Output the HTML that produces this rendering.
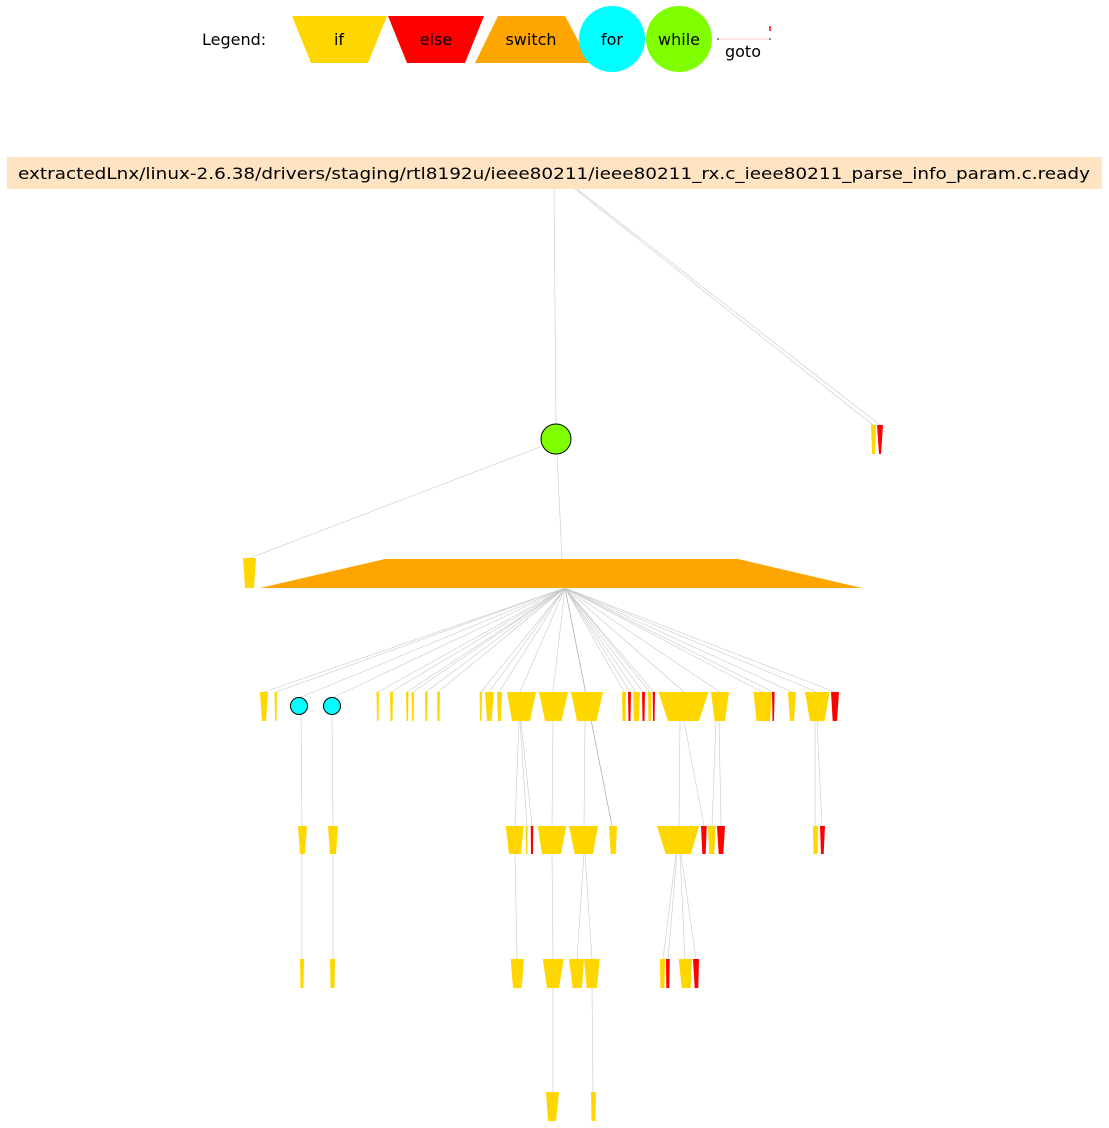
<!DOCTYPE html>
<html><head><meta charset="utf-8"><style>
html,body{margin:0;padding:0;background:#fff;}
svg{display:block;font-family:"DejaVu Sans","Liberation Sans",sans-serif;}
</style></head><body>
<svg width="1109" height="1128" viewBox="0 0 1109 1128" xmlns="http://www.w3.org/2000/svg">
<!-- Legend -->
<text x="202" y="45" font-size="16" fill="#000">Legend:</text>
<polygon points="292,16 387,16 368,63 311,63" fill="#ffd700"/>
<text x="339" y="45" font-size="16" text-anchor="middle">if</text>
<polygon points="388,16 484,16 465,63 407,63" fill="#ff0000"/>
<text x="436" y="45" font-size="16" text-anchor="middle">else</text>
<polygon points="498,16 565,16 590,63 475,63" fill="#ffa500"/>
<text x="531" y="45" font-size="16" text-anchor="middle">switch</text>
<ellipse cx="612" cy="39" rx="33" ry="33" fill="#00ffff"/>
<text x="612" y="45" font-size="16" text-anchor="middle">for</text>
<ellipse cx="679" cy="39" rx="33" ry="33" fill="#7fff00"/>
<text x="679" y="45" font-size="16" text-anchor="middle">while</text>
<line x1="718" y1="39" x2="770" y2="39" stroke="#fcc" stroke-width="1"/>
<circle cx="718" cy="39" r="0.8" fill="#000"/>
<circle cx="770" cy="39" r="0.8" fill="#000"/>
<line x1="770" y1="26" x2="770" y2="31" stroke="#f00" stroke-width="1.5"/>
<text x="743" y="57" font-size="16" text-anchor="middle">goto</text>

<!-- Title -->
<rect x="7" y="157" width="1095" height="32" fill="#ffe4c4"/>
<text x="554" y="179" font-size="16" text-anchor="middle" textLength="1072" lengthAdjust="spacingAndGlyphs">extractedLnx/linux-2.6.38/drivers/staging/rtl8192u/ieee80211/ieee80211_rx.c_ieee80211_parse_info_param.c.ready</text>

<!-- edges -->
<g stroke="#c8c8c8" stroke-width="0.6" fill="none">
<line x1="554" y1="189" x2="556" y2="424"/>
<line x1="575" y1="189" x2="873" y2="425"/>
<line x1="577" y1="189" x2="880" y2="425"/>
<line x1="540" y1="447" x2="250" y2="558"/>
<line x1="557" y1="454" x2="562" y2="559"/>
<line x1="565" y1="588" x2="264" y2="692"/>
<line x1="565" y1="588" x2="276" y2="692"/>
<line x1="565" y1="588" x2="299" y2="698"/>
<line x1="565" y1="588" x2="332" y2="698"/>
<line x1="565" y1="588" x2="378" y2="692"/>
<line x1="565" y1="588" x2="391" y2="692"/>
<line x1="565" y1="588" x2="407" y2="692"/>
<line x1="565" y1="588" x2="413" y2="692"/>
<line x1="565" y1="588" x2="426" y2="692"/>
<line x1="565" y1="588" x2="438" y2="692"/>
<line x1="565" y1="588" x2="481" y2="692"/>
<line x1="565" y1="588" x2="489" y2="692"/>
<line x1="565" y1="588" x2="499" y2="692"/>
<line x1="565" y1="588" x2="520" y2="692"/>
<line x1="565" y1="588" x2="553" y2="692"/>
<line x1="565" y1="588" x2="612" y2="826" stroke="#999"/>
<line x1="565" y1="588" x2="624" y2="692"/>
<line x1="565" y1="588" x2="630" y2="692"/>
<line x1="565" y1="588" x2="636" y2="692"/>
<line x1="565" y1="588" x2="643" y2="692"/>
<line x1="565" y1="588" x2="650" y2="692"/>
<line x1="565" y1="588" x2="654" y2="692"/>
<line x1="565" y1="588" x2="684" y2="692"/>
<line x1="565" y1="588" x2="720" y2="692"/>
<line x1="565" y1="588" x2="762" y2="692"/>
<line x1="565" y1="588" x2="773" y2="692"/>
<line x1="565" y1="588" x2="792" y2="692"/>
<line x1="565" y1="588" x2="817" y2="692"/>
<line x1="565" y1="588" x2="835" y2="692"/>
<line x1="301" y1="714" x2="302" y2="826"/>
<line x1="332" y1="714" x2="333" y2="826"/>
<line x1="519" y1="721" x2="515" y2="826"/>
<line x1="520" y1="721" x2="527" y2="826"/>
<line x1="521" y1="721" x2="532" y2="826"/>
<line x1="553" y1="721" x2="552" y2="826"/>
<line x1="585" y1="721" x2="584" y2="826"/>
<line x1="680" y1="721" x2="679" y2="826"/>
<line x1="684" y1="721" x2="704" y2="826"/>
<line x1="716" y1="721" x2="712" y2="826"/>
<line x1="719" y1="721" x2="721" y2="826"/>
<line x1="815" y1="721" x2="815" y2="826"/>
<line x1="817" y1="721" x2="822" y2="826"/>
<line x1="302" y1="854" x2="302" y2="959"/>
<line x1="333" y1="854" x2="333" y2="959"/>
<line x1="515" y1="854" x2="517" y2="959"/>
<line x1="552" y1="854" x2="553" y2="959"/>
<line x1="584" y1="854" x2="577" y2="959"/>
<line x1="585" y1="854" x2="592" y2="959"/>
<line x1="676" y1="854" x2="663" y2="959"/>
<line x1="677" y1="854" x2="668" y2="959"/>
<line x1="680" y1="854" x2="685" y2="959"/>
<line x1="681" y1="854" x2="696" y2="959"/>
<line x1="553" y1="988" x2="553" y2="1092"/>
<line x1="592" y1="988" x2="593" y2="1092"/>
</g>

<circle cx="556" cy="439" r="15" fill="#7fff00" stroke="#000" stroke-width="1"/>
<polygon points="871,425 876,425 875,454 872,454" fill="#ffd700"/>
<polygon points="877,425 883,425 881,454 879,454" fill="#ff0000"/>
<polygon points="243,558 256,558 254,588 245,588" fill="#ffd700"/>
<polygon points="385,559 738,559 862,588 260,588" fill="#ffa500"/>

<g fill="#ffd700">
<polygon points="260,692 268,692 266,721 262,721"/>
<polygon points="274.5,692 277,692 276.5,721 275,721"/>
<polygon points="376.5,692 379,692 378.5,721 377,721"/>
<polygon points="390,692 393,692 392.5,721 390.5,721"/>
<polygon points="406,692 408.5,692 408,721 406.5,721"/>
<polygon points="411.5,692 414,692 413.5,721 412,721"/>
<polygon points="425,692 427.7,692 427.2,721 425.5,721"/>
<polygon points="437,692 440,692 439.5,721 437.5,721"/>
<polygon points="479.6,692 482,692 481.5,721 480,721"/>
<polygon points="485,692 494,692 491.5,721 487,721"/>
<polygon points="497,692 502,692 501,721 498,721"/>
<polygon points="507,692 536,692 530,721 512,721"/>
<polygon points="539,692 568,692 561.5,721 545,721"/>
<polygon points="571,692 603,692 596.5,721 577,721"/>
<polygon points="622,692 626,692 625.5,721 622.5,721"/>
<polygon points="633,692 640,692 639,721 634,721"/>
<polygon points="648,692 651.5,692 651,721 648.5,721"/>
<polygon points="658.5,692 708.5,692 699,721 668,721"/>
<polygon points="711,692 729,692 725,721 714.6,721"/>
<polygon points="753.5,692 772,692 770,721 756.5,721"/>
<polygon points="788,692 796,692 794,721 790,721"/>
<polygon points="805,692 829.6,692 824.6,721 810,721"/>
</g>
<g fill="#ff0000">
<polygon points="628,692 631,692 630.5,721 628.5,721"/>
<polygon points="642,692 645,692 644.5,721 642.5,721"/>
<polygon points="652.7,692 655,692 654.6,721 653,721"/>
<polygon points="772,692 774.6,692 774,721 772.5,721"/>
<polygon points="831,692 839,692 837,721 832.7,721"/>
</g>
<circle cx="299" cy="706" r="8.5" fill="#00ffff" stroke="#000" stroke-width="1"/>
<circle cx="332" cy="706" r="8.5" fill="#00ffff" stroke="#000" stroke-width="1"/>

<g fill="#ffd700">
<polygon points="298,826 307,826 305,854 300,854"/>
<polygon points="328,826 338,826 336,854 330,854"/>
<polygon points="505.7,826 523.7,826 521,854 509,854"/>
<polygon points="525.7,826 527.7,826 527.4,854 526,854"/>
<polygon points="537.7,826 566.3,826 561,854 542,854"/>
<polygon points="569,826 598,826 593,854 574.7,854"/>
<polygon points="609,826 617,826 615.7,854 610.7,854"/>
<polygon points="657,826 699,826 691,854 665.7,854"/>
<polygon points="708,826 715.7,826 714.3,854 709.3,854"/>
<polygon points="813,826 818,826 817.5,854 813.5,854"/>
</g>
<g fill="#ff0000">
<polygon points="530.7,826 533.3,826 533,854 531,854"/>
<polygon points="701,826 706.7,826 705.7,854 702.3,854"/>
<polygon points="717,826 725,826 723.3,854 718.7,854"/>
<polygon points="820,826 825,826 823.7,854 821,854"/>
</g>

<g fill="#ffd700">
<polygon points="300,959 304,959 303.5,988 300.5,988"/>
<polygon points="330,959 335,959 334.5,988 330.5,988"/>
<polygon points="510.7,959 524,959 521.7,988 513,988"/>
<polygon points="542.7,959 563.7,959 559,988 547,988"/>
<polygon points="569,959 584,959 582,988 572.7,988"/>
<polygon points="584,959 599.7,959 597,988 586.7,988"/>
<polygon points="660,959 665,959 664.5,988 660.5,988"/>
<polygon points="678.7,959 692,959 690.7,988 681.7,988"/>
</g>
<g fill="#ff0000">
<polygon points="666,959 669.7,959 669.3,988 666.3,988"/>
<polygon points="693,959 699,959 698.3,988 694.7,988"/>
</g>

<g fill="#ffd700">
<polygon points="546,1092 559,1092 556,1121 548,1121"/>
<polygon points="591,1092 596,1092 595.5,1121 591.5,1121"/>
</g>
</svg>
</body></html>
